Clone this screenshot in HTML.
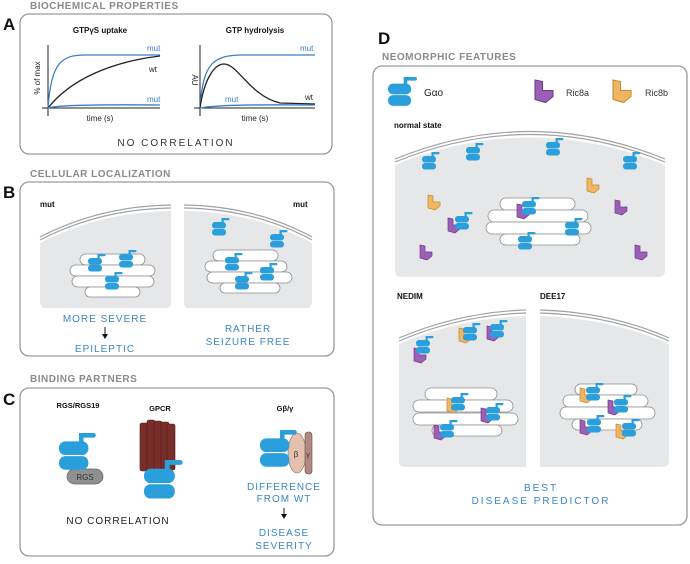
<!DOCTYPE html>
<html><head><meta charset="utf-8"><style>
html,body{margin:0;padding:0;background:#fff}
svg{display:block}
text{font-family:"Liberation Sans",sans-serif}
.tt{font-size:10px;font-weight:bold;fill:#8a8a8a;letter-spacing:.5px}
.L{font-size:17px;font-weight:bold;fill:#111}
.b{fill:#3a86c8;font-size:10px;letter-spacing:1px}
.s{font-size:8px;fill:#222}
.sb{font-size:8px;fill:#111;font-weight:bold}
.box{fill:#fff;stroke:#9a9a9a;stroke-width:1.3}
.cell{fill:#e6e7e8}
.mem{fill:none;stroke:#a0a2a5;stroke-width:1.2}
.go{fill:#fff;stroke:#8d8d8d;stroke-width:.8}
</style></head><body>
<svg width="690" height="564" viewBox="0 0 690 564" xmlns="http://www.w3.org/2000/svg">
<defs>
<g id="g"><rect x="0" y="4" width="14" height="6.5" rx="3" fill="#2a9fdb"/><rect x="0" y="11" width="14" height="6.5" rx="3" fill="#2a9fdb"/><rect x="9.5" y="0" width="2.2" height="5" fill="#2a9fdb"/><rect x="9.5" y="0" width="8" height="2.2" rx="1" fill="#2a9fdb"/></g>
<path id="ra" d="M0,0 L5,1 L5,7 L12,7 L12,11 L7,15 L0,13 Z" fill="#9c5fb6" stroke="#6d3a8c" stroke-width=".7"/>
<path id="rb" d="M0,0 L5,1 L5,7 L12,7 L12,11 L7,15 L0,13 Z" fill="#eeb562" stroke="#c48a2f" stroke-width=".7"/>
</defs>

<!-- A -->
<text x="30" y="9" class="tt">BIOCHEMICAL PROPERTIES</text>
<text x="3" y="30" class="L">A</text>
<rect x="20" y="14" width="312" height="140" rx="9" class="box"/>
<text x="100" y="33" text-anchor="middle" class="sb">GTPγS uptake</text>
<text x="255" y="33" text-anchor="middle" class="sb">GTP hydrolysis</text>
<path d="M48,45 V116 M42,108 H160" stroke="#222" fill="none" stroke-width="1"/>
<path d="M48,108 C51,62 62,55 85,55 L160,55" stroke="#3a7fc8" fill="none" stroke-width="1.3"/>
<path d="M48,108 C70,80 110,62 160,56" stroke="#222" fill="none" stroke-width="1.3"/>
<path d="M48,108 Q60,104 160,105" stroke="#3a7fc8" fill="none" stroke-width="1.3"/>
<text x="147" y="51" class="s" fill="#3a7fc8" style="fill:#3a7fc8">mut</text>
<text x="149" y="72" class="s">wt</text>
<text x="147" y="102" class="s" style="fill:#3a7fc8">mut</text>
<text x="100" y="121" text-anchor="middle" class="s">time (s)</text>
<text transform="translate(40,78) rotate(-90)" text-anchor="middle" class="s">% of max</text>
<path d="M200,45 V116 M194,108 H315" stroke="#222" fill="none" stroke-width="1"/>
<path d="M200,108 C203,62 214,56 240,55 L315,55" stroke="#3a7fc8" fill="none" stroke-width="1.3"/>
<path d="M200,108 C204,80 214,64 224,64 C238,64 250,96 280,103 L315,104" stroke="#222" fill="none" stroke-width="1.3"/>
<path d="M200,108 Q220,104 315,105" stroke="#3a7fc8" fill="none" stroke-width="1.3"/>
<text x="300" y="51" class="s" style="fill:#3a7fc8">mut</text>
<text x="225" y="102" class="s" style="fill:#3a7fc8">mut</text>
<text x="305" y="100" class="s">wt</text>
<text x="255" y="121" text-anchor="middle" class="s">time (s)</text>
<text transform="translate(192,80) rotate(90)" text-anchor="middle" class="s">AU</text>
<text x="176" y="146" text-anchor="middle" style="font-size:10px;letter-spacing:2px;fill:#333">NO CORRELATION</text>

<!-- B -->
<text x="30" y="177" class="tt">CELLULAR LOCALIZATION</text>
<text x="3" y="198" class="L">B</text>
<rect x="20" y="182" width="314" height="174" rx="9" class="box"/>
<text x="40" y="207" class="sb">mut</text>
<text x="293" y="207" class="sb">mut</text>
<path d="M40,243 Q100,212 171,211 L171,304 Q171,308 166,308 L46,308 Q40,308 40,302 Z" class="cell"/>
<path d="M40,240 Q100,209 171,208 M40,237 Q100,206 171,205" class="mem"/>
<path d="M184,211 Q255,212 312,243 L312,302 Q312,308 306,308 L189,308 Q184,308 184,303 Z" class="cell"/>
<path d="M184,208 Q255,209 312,240 M184,205 Q255,206 312,237" class="mem"/>
<g class="go">
<rect x="80" y="254" width="65" height="11" rx="5.5"/><rect x="70" y="265" width="85" height="11" rx="5.5"/><rect x="72" y="276" width="82" height="11" rx="5.5"/><rect x="85" y="287" width="55" height="10" rx="5"/>
<rect x="213" y="250" width="65" height="11" rx="5.5"/><rect x="205" y="261" width="82" height="11" rx="5.5"/><rect x="207" y="272" width="85" height="11" rx="5.5"/><rect x="220" y="283" width="60" height="10" rx="5"/>
</g>
<use href="#g" x="88" y="254"/><use href="#g" x="119" y="250"/><use href="#g" x="105" y="272"/>
<use href="#g" x="212" y="218"/><use href="#g" x="270" y="230"/><use href="#g" x="225" y="253"/><use href="#g" x="260" y="263"/><use href="#g" x="235" y="272"/>
<text x="105" y="322" text-anchor="middle" class="b">MORE SEVERE</text>
<path d="M105,327 V336" stroke="#111" stroke-width="1"/><path d="M102,334 L105,339 L108,334 Z" fill="#111"/>
<text x="105" y="352" text-anchor="middle" class="b">EPILEPTIC</text>
<text x="248" y="332" text-anchor="middle" class="b">RATHER</text>
<text x="248" y="345" text-anchor="middle" class="b">SEIZURE FREE</text>

<!-- C -->
<text x="30" y="382" class="tt">BINDING PARTNERS</text>
<text x="3" y="405" class="L">C</text>
<rect x="20" y="388" width="314" height="168" rx="9" class="box"/>
<text x="78" y="408" text-anchor="middle" style="font-size:7.5px;font-weight:bold;fill:#111">RGS/RGS19</text>
<text x="160" y="411" text-anchor="middle" style="font-size:7.5px;font-weight:bold;fill:#111">GPCR</text>
<text x="285" y="411" text-anchor="middle" style="font-size:7.5px;font-weight:bold;fill:#111">Gβ/γ</text>
<rect x="67" y="469" width="36" height="15" rx="7.5" fill="#8f9092" stroke="#666" stroke-width=".7"/>
<text x="85" y="480" text-anchor="middle" style="font-size:8px;fill:#333">RGS</text>
<use href="#g" transform="translate(59,433) scale(2.1)"/>
<g fill="#7a2e2a" stroke="#4a1a16" stroke-width=".6">
<rect x="140" y="423" width="8" height="48" rx="2"/><rect x="147" y="420" width="8" height="50" rx="2"/><rect x="154" y="421" width="8" height="52" rx="2"/><rect x="161" y="422" width="8" height="50" rx="2"/><rect x="167" y="424" width="8" height="46" rx="2"/>
</g>
<use href="#g" transform="translate(144,460) scale(2.2)"/>
<ellipse cx="297" cy="453" rx="9" ry="20" fill="#e3c1ac" stroke="#8a6a5a" stroke-width=".6"/>
<rect x="305" y="432" width="7" height="42" rx="3" fill="#b08a80" stroke="#6a4a40" stroke-width=".6"/>
<use href="#g" transform="translate(260,430) scale(2.1)"/>
<text x="296" y="457" text-anchor="middle" style="font-size:8px;fill:#333">β</text>
<text x="308" y="457" text-anchor="middle" style="font-size:7px;fill:#333">γ</text>
<text x="284" y="490" text-anchor="middle" class="b">DIFFERENCE</text>
<text x="284" y="502" text-anchor="middle" class="b">FROM WT</text>
<path d="M284,508 V516" stroke="#111"/><path d="M281,514 L284,519 L287,514 Z" fill="#111"/>
<text x="284" y="536" text-anchor="middle" class="b">DISEASE</text>
<text x="284" y="549" text-anchor="middle" class="b">SEVERITY</text>
<text x="118" y="524" text-anchor="middle" style="font-size:10px;letter-spacing:1px;fill:#222">NO CORRELATION</text>

<!-- D -->
<text x="378" y="44" class="L">D</text>
<text x="382" y="60" class="tt">NEOMORPHIC FEATURES</text>
<rect x="373" y="66" width="314" height="459" rx="9" class="box"/>
<use href="#g" transform="translate(388,77) scale(1.65)"/>
<text x="424" y="96" style="font-size:10px;fill:#222">Gαo</text>
<use href="#ra" transform="translate(535,80) scale(1.5)"/>
<text x="566" y="96" style="font-size:9px;fill:#333">Ric8a</text>
<use href="#rb" transform="translate(613,80) scale(1.5)"/>
<text x="645" y="96" style="font-size:9px;fill:#333">Ric8b</text>
<text x="394" y="128" class="sb">normal state</text>
<path d="M395,165 Q530,110 665,165 L665,270 Q665,277 658,277 L402,277 Q395,277 395,270 Z" class="cell"/>
<path d="M395,162 Q530,107 665,162 M395,159 Q530,104 665,159" class="mem"/>
<g class="go">
<rect x="500" y="198" width="75" height="12" rx="6"/><rect x="488" y="210" width="100" height="12" rx="6"/><rect x="486" y="222" width="105" height="12" rx="6"/><rect x="500" y="234" width="80" height="11" rx="5.5"/>
</g>
<use href="#g" x="422" y="152"/><use href="#g" x="466" y="143"/><use href="#g" x="546" y="138"/><use href="#g" x="623" y="152"/>
<use href="#rb" x="428" y="195"/><use href="#rb" x="587" y="178"/><use href="#ra" x="615" y="200"/><use href="#ra" x="420" y="245"/><use href="#ra" x="635" y="245"/>
<use href="#ra" x="448" y="218"/><use href="#g" x="455" y="212"/>
<use href="#ra" x="517" y="204"/><use href="#g" x="522" y="197"/>
<use href="#g" x="565" y="218"/><use href="#g" x="518" y="232"/>
<text x="397" y="299" class="sb">NEDIM</text>
<text x="540" y="299" class="sb">DEE17</text>
<path d="M399,344 Q460,318 526,316 L526,467 L405,467 Q399,467 399,461 Z" class="cell"/>
<path d="M399,341 Q460,315 526,313 M399,338 Q460,312 526,310" class="mem"/>
<path d="M540,316 Q610,318 669,344 L669,461 Q669,467 663,467 L540,467 Z" class="cell"/>
<path d="M540,313 Q610,315 669,341 M540,310 Q610,312 669,338" class="mem"/>
<g class="go">
<rect x="425" y="388" width="72" height="12" rx="6"/><rect x="413" y="400" width="100" height="12" rx="6"/><rect x="413" y="413" width="105" height="12" rx="6"/><rect x="432" y="425" width="70" height="11" rx="5.5"/>
<rect x="575" y="384" width="62" height="11" rx="5.5"/><rect x="563" y="395" width="85" height="12" rx="6"/><rect x="560" y="407" width="95" height="12" rx="6"/><rect x="572" y="419" width="70" height="11" rx="5.5"/>
</g>
<use href="#ra" x="414" y="348"/><use href="#g" x="416" y="336"/>
<use href="#rb" x="459" y="328"/><use href="#g" x="463" y="323"/>
<use href="#ra" x="487" y="326"/><use href="#g" x="490" y="320"/>
<use href="#rb" x="447" y="398"/><use href="#g" x="451" y="393"/>
<use href="#ra" x="481" y="408"/><use href="#g" x="486" y="403"/>
<use href="#ra" x="434" y="425"/><use href="#g" x="440" y="420"/>
<use href="#rb" x="580" y="388"/><use href="#g" x="586" y="383"/>
<use href="#ra" x="608" y="400"/><use href="#g" x="614" y="395"/>
<use href="#ra" x="580" y="420"/><use href="#g" x="587" y="415"/>
<use href="#rb" x="616" y="424"/><use href="#g" x="622" y="419"/>
<text x="541" y="491" text-anchor="middle" class="b" style="letter-spacing:2px">BEST</text>
<text x="541" y="504" text-anchor="middle" class="b" style="letter-spacing:2px">DISEASE PREDICTOR</text>
</svg>
</body></html>
